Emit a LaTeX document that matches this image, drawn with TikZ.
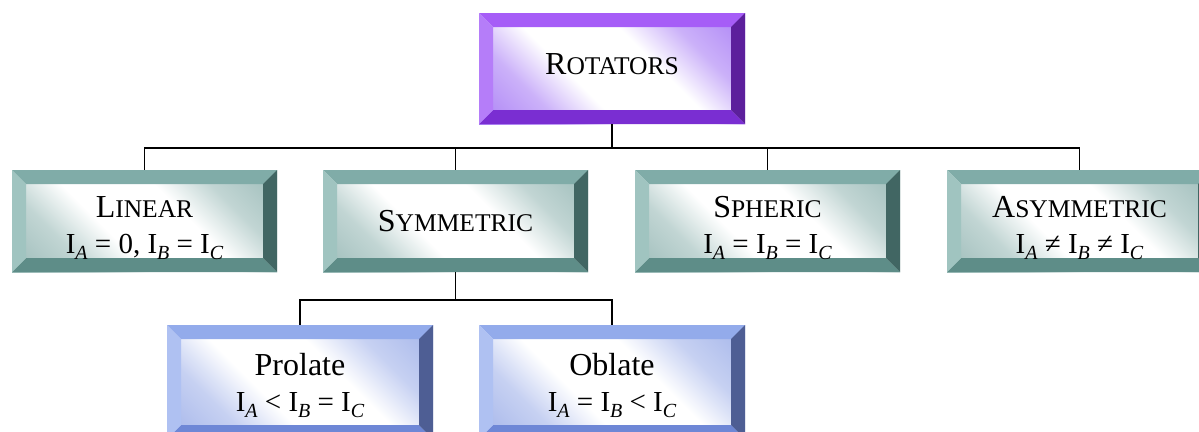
\documentclass[tikz,border=0pt]{standalone}
\usepackage{fontspec}
\setmainfont{Liberation Serif}
\definecolor{pT}{HTML}{A65DF7}
\definecolor{pL}{HTML}{B57DF9}
\definecolor{pR}{HTML}{5C1F9C}
\definecolor{pB}{HTML}{7A2ED2}
\definecolor{pC}{HTML}{8C52F2}
\definecolor{tT}{HTML}{80ACA8}
\definecolor{tL}{HTML}{A0C4C0}
\definecolor{tR}{HTML}{416663}
\definecolor{tB}{HTML}{5E8D88}
\definecolor{tC}{HTML}{76A29E}
\definecolor{bT}{HTML}{93ABEB}
\definecolor{bL}{HTML}{AFC1F2}
\definecolor{bR}{HTML}{4E5E94}
\definecolor{bB}{HTML}{6E87D6}
\definecolor{bC}{HTML}{8198E2}
\pgfdeclarehorizontalshading{pshade}{100bp}{color(0bp)=(pC); color(30bp)=(pC!45!white); color(41bp)=(white); color(59bp)=(white); color(70bp)=(pC!45!white); color(100bp)=(pC)}
\pgfdeclarehorizontalshading{tshade}{100bp}{color(0bp)=(tC); color(30bp)=(tC!45!white); color(41bp)=(white); color(59bp)=(white); color(70bp)=(tC!45!white); color(100bp)=(tC)}
\pgfdeclarehorizontalshading{bshade}{100bp}{color(0bp)=(bC); color(30bp)=(bC!45!white); color(41bp)=(white); color(59bp)=(white); color(70bp)=(bC!45!white); color(100bp)=(bC)}
\newcommand\capsc[2]{{\fontsize{32}{32}\selectfont #1}{\fontsize{25.5}{25.5}\selectfont #2}}
\newcommand\Iof[1]{I\raisebox{-6pt}{\fontsize{20}{20}\selectfont\itshape #1}}
\tikzset{
  bevel/.style n args={5}{draw=none, inner sep=0pt, align=center,
    font=\fontsize{29}{36}\selectfont,
    shading=#5, shading angle=45,
    path picture={
      \coordinate (bNW) at (path picture bounding box.north west);
      \coordinate (bNE) at (path picture bounding box.north east);
      \coordinate (bSW) at (path picture bounding box.south west);
      \coordinate (bSE) at (path picture bounding box.south east);
      \fill[#1] (bNW) -- (bNE) -- ([shift={(-14pt,-14pt)}]bNE) -- ([shift={(14pt,-14pt)}]bNW) -- cycle;
      \fill[#4] (bSW) -- (bSE) -- ([shift={(-14pt,14pt)}]bSE) -- ([shift={(14pt,14pt)}]bSW) -- cycle;
      \fill[#2] (bNW) -- (bSW) -- ([shift={(14pt,14pt)}]bSW) -- ([shift={(14pt,-14pt)}]bNW) -- cycle;
      \fill[#3] (bNE) -- (bSE) -- ([shift={(-14pt,14pt)}]bSE) -- ([shift={(-14pt,-14pt)}]bNE) -- cycle;
    }},
  purplebox/.style={bevel={pT}{pL}{pR}{pB}{pshade}, minimum width=266pt, minimum height=111pt},
  tealbox/.style={bevel={tT}{tL}{tR}{tB}{tshade}, minimum width=265pt, minimum height=102pt},
  bluebox/.style={bevel={bT}{bL}{bR}{bB}{bshade}, minimum width=266pt, minimum height=114pt},
  conn/.style={draw=black, line width=1.5pt}
}
\begin{document}
\begin{tikzpicture}[x=1pt,y=-1pt]
\useasboundingbox (0,0) rectangle (1199,431);
\clip (0,0) rectangle (1199,431);
\node[purplebox] (rot) at (612,68.5) {\capsc{R}{OTATORS}\rule[-9pt]{0pt}{9pt}};
\node[tealbox] (lin) at (144.5,221) {\rule{0pt}{34.5pt}\capsc{L}{INEAR}\\ \Iof{A} = 0, \Iof{B} = \Iof{C}};
\node[tealbox] (sym) at (455.5,221) {\capsc{S}{YMMETRIC}};
\node[tealbox] (sph) at (767.5,221) {\rule{0pt}{34.5pt}\capsc{S}{PHERIC}\\ \Iof{A} = \Iof{B} = \Iof{C}};
\node[tealbox] (asy) at (1079.5,221) {\rule{0pt}{34.5pt}\capsc{A}{SYMMETRIC}\\ \Iof{A} ≠ \Iof{B} ≠ \Iof{C}};
\node[bluebox] (pro) at (300,382) {\rule{0pt}{30pt}{\fontsize{32}{32}\selectfont Prolate}\\ \Iof{A} < \Iof{B} = \Iof{C}};
\node[bluebox] (obl) at (612,382) {\rule{0pt}{30pt}{\fontsize{32}{32}\selectfont Oblate}\\ \Iof{A} = \Iof{B} < \Iof{C}};
\draw[conn] (rot.south) -- ++(0,24) -| (lin.north);
\draw[conn] (rot.south) -- ++(0,24) -| (sym.north);
\draw[conn] (rot.south) -- ++(0,24) -| (sph.north);
\draw[conn] (rot.south) -- ++(0,24) -| (asy.north);
\draw[conn] (sym.south) -- ++(0,28) -| (pro.north);
\draw[conn] (sym.south) -- ++(0,28) -| (obl.north);
\end{tikzpicture}
\end{document}
